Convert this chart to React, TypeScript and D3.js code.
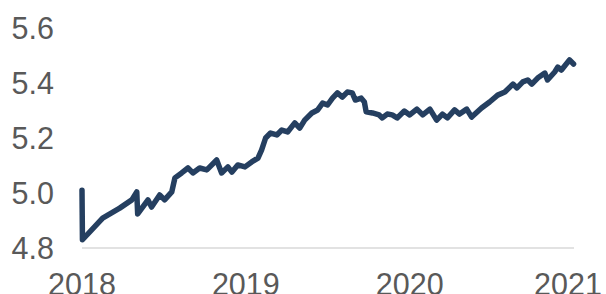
import React, { useRef, useEffect } from 'react';
import * as d3 from 'd3';

// weekly-ish readings
const dates = [
  '2018-01-01', '2018-01-02', '2018-02-16', '2018-03-26', '2018-04-22', '2018-05-03',
  '2018-05-05', '2018-05-28', '2018-06-05', '2018-06-23', '2018-07-04', '2018-07-20',
  '2018-07-27', '2018-08-11', '2018-08-25', '2018-09-05', '2018-09-20', '2018-10-06',
  '2018-10-28', '2018-11-08', '2018-11-22', '2018-12-01', '2018-12-14', '2018-12-30',
  '2019-01-14', '2019-01-28', '2019-02-05', '2019-02-14', '2019-02-25', '2019-03-11',
  '2019-03-22', '2019-04-04', '2019-04-20', '2019-05-01', '2019-05-12', '2019-05-28',
  '2019-06-10', '2019-06-21', '2019-07-02', '2019-07-13', '2019-07-24', '2019-08-04',
  '2019-08-15', '2019-08-26', '2019-09-02', '2019-09-15', '2019-09-22', '2019-09-26',
  '2019-10-10', '2019-10-25', '2019-11-01', '2019-11-12', '2019-11-23', '2019-12-04',
  '2019-12-20', '2020-01-01', '2020-01-17', '2020-01-30', '2020-02-15', '2020-03-01',
  '2020-03-14', '2020-03-25', '2020-04-10', '2020-04-21', '2020-05-07', '2020-05-18',
  '2020-06-09', '2020-06-27', '2020-07-15', '2020-07-31', '2020-08-18', '2020-08-27',
  '2020-09-09', '2020-09-20', '2020-09-29', '2020-10-12', '2020-10-28', '2020-11-03',
  '2020-11-19', '2020-11-26', '2020-12-04', '2020-12-22', '2020-12-31',
];

const values = [
  5.01, 4.83, 4.909, 4.945, 4.975, 5.004,
  4.924, 4.975, 4.949, 4.993, 4.975, 5.004,
  5.055, 5.073, 5.091, 5.073, 5.091, 5.084,
  5.12, 5.073, 5.095, 5.076, 5.102, 5.095,
  5.113, 5.127, 5.156, 5.2, 5.218, 5.211,
  5.229, 5.222, 5.255, 5.236, 5.265, 5.291,
  5.302, 5.327, 5.32, 5.345, 5.364, 5.349,
  5.367, 5.364, 5.338, 5.345, 5.331, 5.295,
  5.291, 5.284, 5.273, 5.287, 5.284, 5.273,
  5.298, 5.284, 5.305, 5.284, 5.305, 5.265,
  5.287, 5.273, 5.302, 5.287, 5.305, 5.276,
  5.309, 5.331, 5.356, 5.367, 5.396, 5.382,
  5.404, 5.411, 5.396, 5.418, 5.436, 5.411,
  5.44, 5.458, 5.447, 5.484, 5.469,
];

const yTicks = [4.8, 5.0, 5.2, 5.4, 5.6];
const yearTicks = ['2018', '2019', '2020', '2021'];

const App: React.FC = () => {
  const svgRef = useRef<SVGSVGElement | null>(null);

  useEffect(() => {
    if (!svgRef.current) return;

    const width = 606;
    const height = 294;
    const left = 82;
    const right = 574;
    const font = '"Liberation Sans", Arial, sans-serif';

    const svg = d3.select(svgRef.current);
    svg.selectAll('*').remove();
    svg.attr('width', width).attr('height', height).style('background', '#ffffff');

    const parse = d3.timeParse('%Y-%m-%d');
    const data = dates.map((d, i) => ({ date: parse(d)!, value: values[i] }));

    const x = d3
      .scaleTime()
      .domain([parse('2018-01-01')!, parse('2021-01-01')!])
      .range([left, right]);

    const y = d3.scaleLinear().domain([4.8, 5.6]).range([248, 28]);

    // y labels
    svg
      .append('g')
      .selectAll('text')
      .data(yTicks)
      .enter()
      .append('text')
      .attr('x', 54)
      .attr('y', (d) => y(d) + 11)
      .attr('text-anchor', 'end')
      .attr('font-family', font)
      .attr('font-size', 30.5)
      .attr('fill', '#595959')
      .text((d) => d.toFixed(1));

    // base line
    svg
      .append('line')
      .attr('x1', left)
      .attr('x2', right)
      .attr('y1', y(4.8))
      .attr('y2', y(4.8))
      .attr('stroke', '#d9d9d9')
      .attr('stroke-width', 1.5);

    // year labels (last one kept inside the frame)
    svg
      .append('g')
      .selectAll('text')
      .data(yearTicks)
      .enter()
      .append('text')
      .attr('x', (d) => Math.min(x(parse(d + '-01-01')!), width - 38))
      .attr('y', 295)
      .attr('text-anchor', 'middle')
      .attr('font-family', font)
      .attr('font-size', 30.5)
      .attr('fill', '#595959')
      .text((d) => d);

    const line = d3
      .line<{ date: Date; value: number }>()
      .x((d) => x(d.date))
      .y((d) => y(d.value));

    svg
      .append('path')
      .datum(data)
      .attr('d', line)
      .attr('fill', 'none')
      .attr('stroke', '#253f60')
      .attr('stroke-width', 5.5)
      .attr('stroke-linejoin', 'round')
      .attr('stroke-linecap', 'round');
  }, []);

  return <svg ref={svgRef} style={{ position: 'absolute', left: 0, top: 0 }} />;
};

export default App;
